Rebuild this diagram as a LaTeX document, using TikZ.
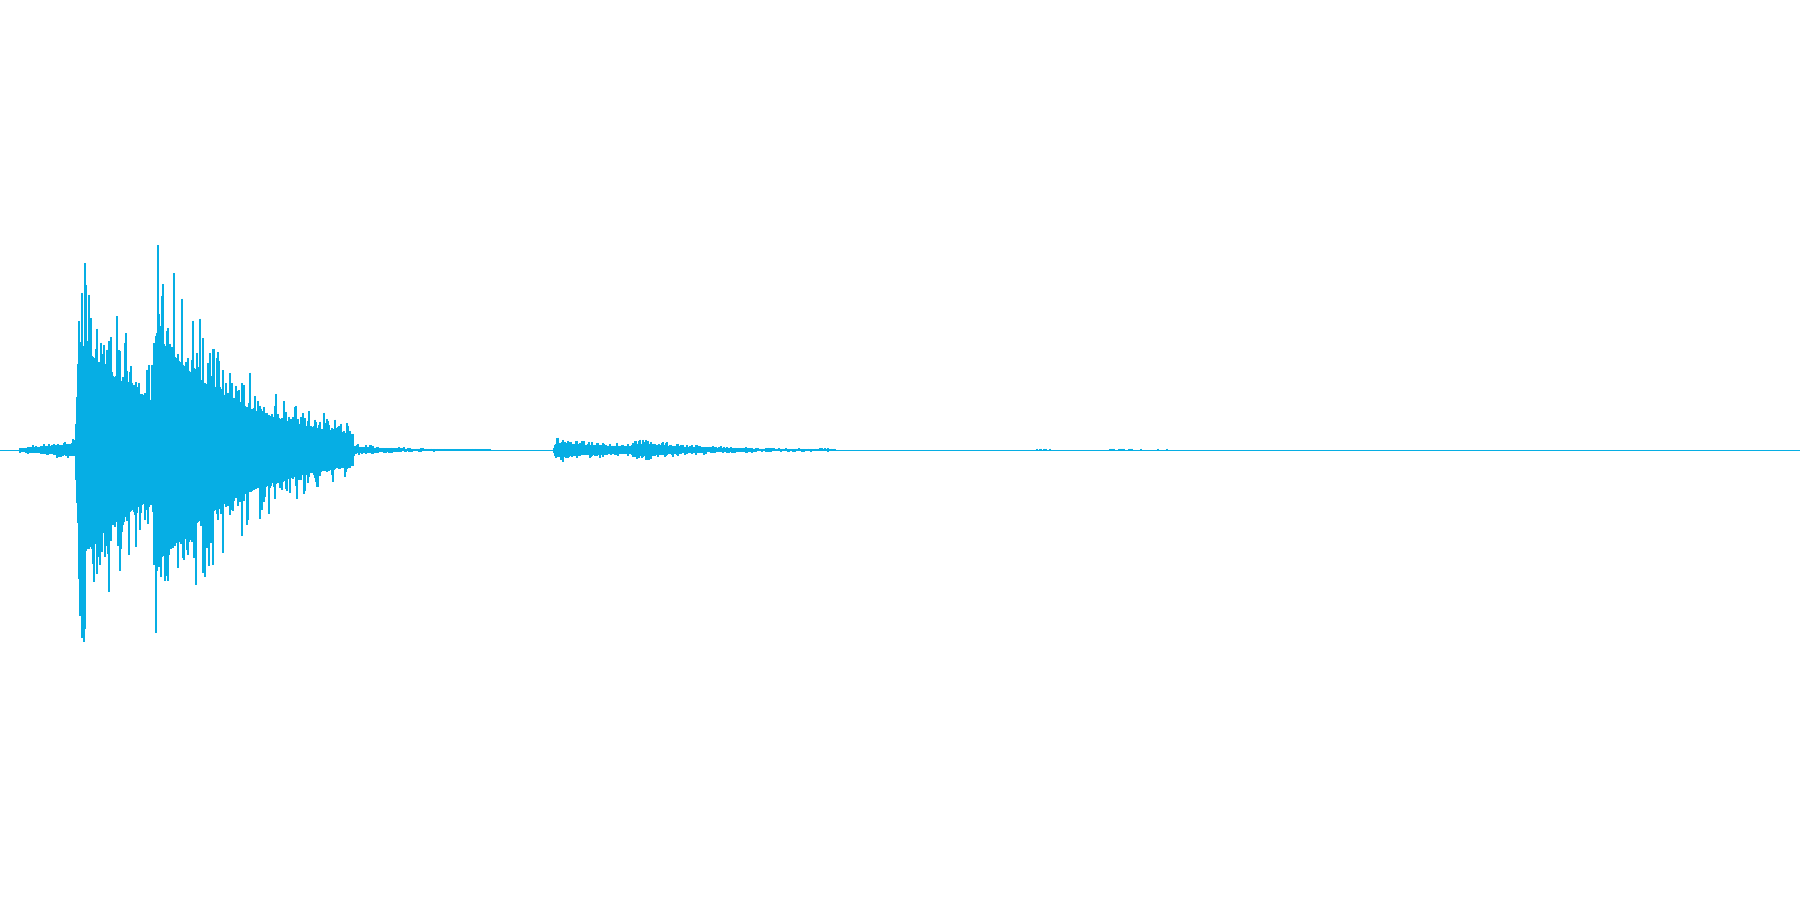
\documentclass[tikz,border=0pt]{standalone}
\usetikzlibrary{positioning}
\definecolor{wave}{RGB}{6,174,228}
\tikzset{
    bar/.style = {draw=wave, line width=0.12mm},
    axis/.style = {draw=wave, line width=0.1mm},
}
% one column per pixel: from, to, envelope in \x
\newcommand\wavepart[3]{%
    \foreach \x in {#1,...,#2} {
        \pgfmathsetmacro\env{#3}
        \pgfmathsetmacro\up{\env*(0.52+0.48*rnd^4)}
        \pgfmathsetmacro\dn{\env*(0.52+0.48*rnd^4)}
        \draw [bar] (\x,450-\up) -- (\x,450+\dn);
    }}

\begin{document}
\begin{tikzpicture}[x=0.1mm, y=-0.1mm]
    \pgfmathsetseed{11}
    \useasboundingbox (0,0) rectangle (1800,900);

    \coordinate (start) at (0,450);
    \coordinate (end) at (1800,450);
    \draw [axis] (start) -- (end);

    % lead-in
    \wavepart{20}{75}{3+9*(\x-20)/55}
    % first hit
    \wavepart{76}{152}{min(185*exp(-(\x-79)/75)+25, 50+45*(\x-76))}
    % second hit
    \wavepart{153}{353}{min(210*exp(-(\x-156)/85)+10, 120+40*(\x-153))}
    % tail
    \wavepart{354}{490}{6*exp(-(\x-354)/40)+0.9}
    % echoes
    \wavepart{554}{630}{min(11*exp(-(\x-556)/90)+2, 4+4*(\x-554))}
    \wavepart{631}{835}{min(12*exp(-(\x-633)/60)+1.2, 6+4*(\x-631))}

    % specks
    \foreach \x in {1037,1040,1041,1044,1046,1050,1110,1111,1112,1113,1114,1119,
                    1120,1121,1122,1123,1124,1129,1130,1131,1132,1141,1158,1167}
        \draw [bar] (\x,448.6) -- (\x,451.4);
\end{tikzpicture}
\end{document}
